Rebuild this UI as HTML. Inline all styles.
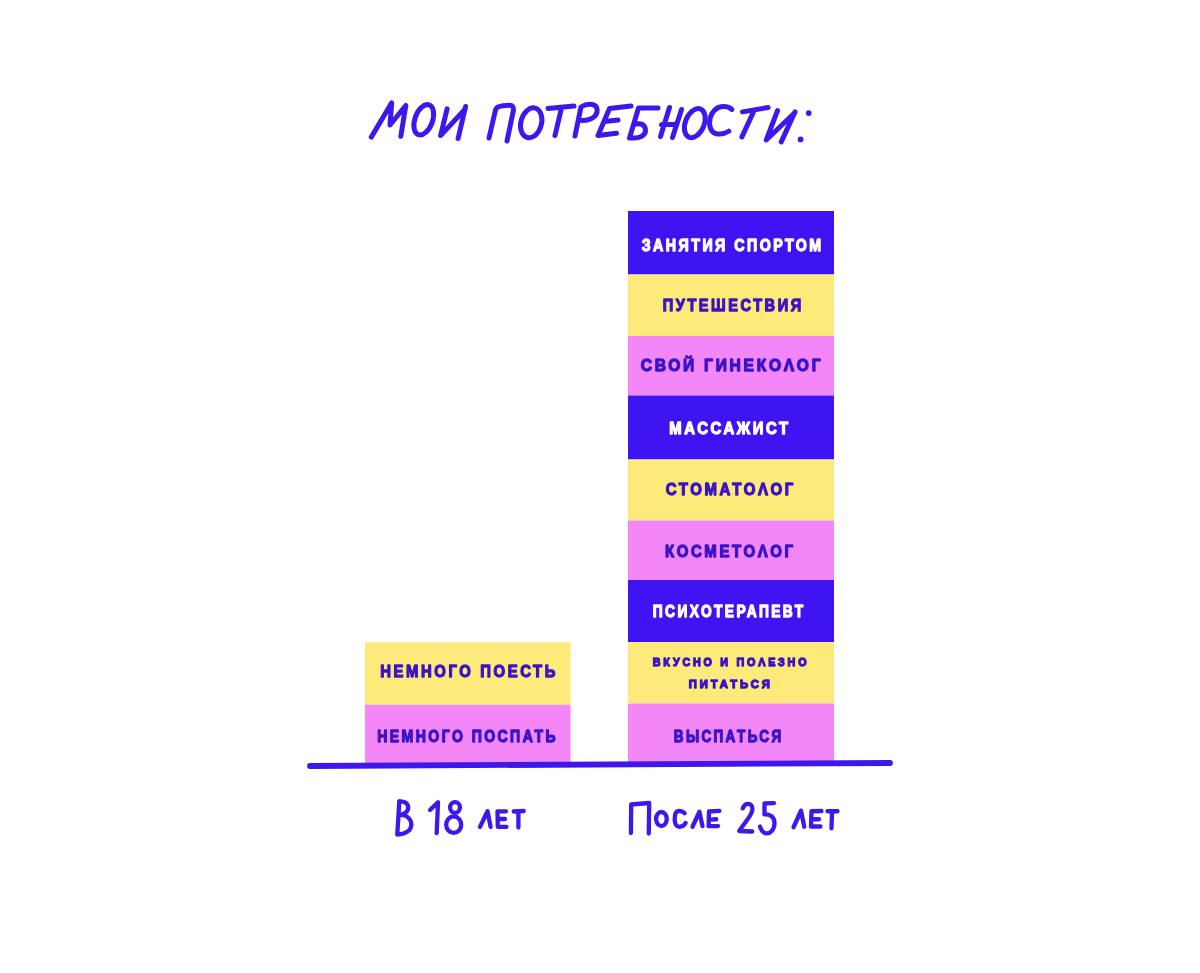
<!DOCTYPE html><html><head><meta charset="utf-8"><style>html,body{margin:0;padding:0;background:#fff;}svg{display:block;will-change:transform}</style></head><body>
<svg width="1200" height="973" viewBox="0 0 1200 973">
<rect width="1200" height="973" fill="#fff"/>
<rect x="628" y="211" width="206" height="63.5" fill="#3e14f2"/>
<rect x="628" y="274.5" width="206" height="61.5" fill="#fdea7a"/>
<rect x="628" y="336" width="206" height="59.5" fill="#f387f8"/>
<rect x="628" y="395.5" width="206" height="64.0" fill="#3e14f2"/>
<rect x="628" y="459.5" width="206" height="61.0" fill="#fdea7a"/>
<rect x="628" y="520.5" width="206" height="59.5" fill="#f387f8"/>
<rect x="628" y="580" width="206" height="62" fill="#3e14f2"/>
<rect x="628" y="642" width="206" height="61.5" fill="#fdea7a"/>
<rect x="628" y="703.5" width="206" height="60.5" fill="#f387f8"/>
<rect x="365" y="642.3" width="205.5" height="62.5" fill="#fdea7a"/>
<rect x="365" y="704.8" width="205.5" height="60.200000000000045" fill="#f387f8"/>
<line x1="310" y1="766" x2="890" y2="763" stroke="#3d17ec" stroke-width="5.8" stroke-linecap="round"/>
<text transform="translate(641.73,251.10) scale(0.8228,1)" font-family="&quot;Liberation Sans&quot;, sans-serif" font-weight="bold" font-size="17.30" fill="#fff" letter-spacing="3.0" stroke="#fff" stroke-width="1.3" stroke-linejoin="round">ЗАНЯТИЯ СПОРТОМ</text>
<text transform="translate(662.85,311.10) scale(0.8426,1)" font-family="&quot;Liberation Sans&quot;, sans-serif" font-weight="bold" font-size="17.30" fill="#3a13c8" letter-spacing="3.0" stroke="#3a13c8" stroke-width="1.3" stroke-linejoin="round">ПУТЕШЕСТВИЯ</text>
<text transform="translate(640.70,371.10) scale(0.9025,1)" font-family="&quot;Liberation Sans&quot;, sans-serif" font-weight="bold" font-size="17.30" fill="#3a13c8" letter-spacing="3.0" stroke="#3a13c8" stroke-width="1.3" stroke-linejoin="round">СВОЙ ГИНЕКОΛОГ</text>
<text transform="translate(669.25,434.10) scale(0.8596,1)" font-family="&quot;Liberation Sans&quot;, sans-serif" font-weight="bold" font-size="17.30" fill="#fff" letter-spacing="3.0" stroke="#fff" stroke-width="1.3" stroke-linejoin="round">МАССАЖИСТ</text>
<text transform="translate(665.70,495.25) scale(0.8681,1)" font-family="&quot;Liberation Sans&quot;, sans-serif" font-weight="bold" font-size="17.30" fill="#3a13c8" letter-spacing="3.0" stroke="#3a13c8" stroke-width="1.3" stroke-linejoin="round">СТОМАТОΛОГ</text>
<text transform="translate(665.08,557.00) scale(0.8674,1)" font-family="&quot;Liberation Sans&quot;, sans-serif" font-weight="bold" font-size="17.30" fill="#3a13c8" letter-spacing="3.0" stroke="#3a13c8" stroke-width="1.3" stroke-linejoin="round">КОСМЕТОΛОГ</text>
<text transform="translate(652.82,617.00) scale(0.7970,1)" font-family="&quot;Liberation Sans&quot;, sans-serif" font-weight="bold" font-size="17.30" fill="#fff" letter-spacing="3.0" stroke="#fff" stroke-width="1.3" stroke-linejoin="round">ПСИХОТЕРАПЕВТ</text>
<text transform="translate(652.80,666.40) scale(0.9263,1)" font-family="&quot;Liberation Sans&quot;, sans-serif" font-weight="bold" font-size="11.60" fill="#3a13c8" letter-spacing="3.0" stroke="#3a13c8" stroke-width="1.3" stroke-linejoin="round">ВКУСНО И ПОΛЕЗНО</text>
<text transform="translate(688.69,688.10) scale(0.9709,1)" font-family="&quot;Liberation Sans&quot;, sans-serif" font-weight="bold" font-size="11.60" fill="#3a13c8" letter-spacing="3.0" stroke="#3a13c8" stroke-width="1.3" stroke-linejoin="round">ПИТАТЬСЯ</text>
<text transform="translate(673.78,741.65) scale(0.7813,1)" font-family="&quot;Liberation Sans&quot;, sans-serif" font-weight="bold" font-size="17.30" fill="#3a13c8" letter-spacing="3.0" stroke="#3a13c8" stroke-width="1.3" stroke-linejoin="round">ВЫСПАТЬСЯ</text>
<text transform="translate(380.20,677.00) scale(0.8612,1)" font-family="&quot;Liberation Sans&quot;, sans-serif" font-weight="bold" font-size="17.30" fill="#3a13c8" letter-spacing="3.0" stroke="#3a13c8" stroke-width="1.3" stroke-linejoin="round">НЕМНОГО ПОЕСТЬ</text>
<text transform="translate(377.20,741.65) scale(0.8130,1)" font-family="&quot;Liberation Sans&quot;, sans-serif" font-weight="bold" font-size="17.30" fill="#3a13c8" letter-spacing="3.0" stroke="#3a13c8" stroke-width="1.3" stroke-linejoin="round">НЕМНОГО ПОСПАТЬ</text>
<g fill="none" stroke="#3d17ec" stroke-width="5.0" stroke-linecap="round" stroke-linejoin="round">
<path d="M371.3,137.1 L391.7,102.8 L390,125 L405.8,105.5 L400.8,136.3"/>
<path d="M465.6,106.5 L458.1,138.5"/>
<path d="M447.1,108.9 L440.6,135.6 L464.8,109.5"/>
<path d="M489,138 L495.5,110 C496.5,107 499,106.2 503,105.8 L509.5,105.3 C512.5,105.2 513.5,107 513.5,110 L507,141"/>
<path d="M548,108.5 L574,106 M561.5,108 L555,135.5"/>
<path d="M575,136 L581,107 C585,104.5 590,103.8 594,105 C598,106.5 598,113 595,116 C592,119 586,120.5 582,120.5"/>
<path d="M631,106 L609.5,108.5 L598,135.5 L616.5,133.3 M604.5,121.5 L618,120"/>
<path d="M658,108 L638.5,108 L629.5,138 C636,138.5 641,137.5 644,134.5 C646.5,131.5 646,125.5 641,124 C638.5,123.3 636,123.8 634,124.5"/>
<path d="M669.5,107.5 L660.5,136.5 M681.5,109.5 L672.5,137.5 M661.5,124.8 L676.5,124.3"/>
<path d="M731.9,109.4 C729.5,107 725,106.5 722.5,106.6 C716,107 711.25,112.5 710,118.5 C708.5,126 711,133 716.25,133.75 C721,134.5 726,133 728.75,131.25"/>
<path d="M742.5,111.9 L768.1,107.5 M754.4,110 L741.9,136.9"/>
<path d="M777.5,110.6 L766.25,140 L795,112.5 M795,111.9 L781.25,141.9"/>
<ellipse cx="423.75" cy="119.8" rx="8.8" ry="15.8" transform="rotate(20 423.75 119.8)"/>
<ellipse cx="531.2" cy="122.8" rx="10.3" ry="15.2" transform="rotate(15 531.2 122.8)"/>
<ellipse cx="694.8" cy="123.1" rx="9.4" ry="15.2" transform="rotate(22 694.8 123.1)"/>
</g>
<circle cx="808.75" cy="113.1" r="2.9" fill="#3d17ec"/>
<circle cx="800.6" cy="139.4" r="2.9" fill="#3d17ec"/>
<g fill="none" stroke="#3d17ec" stroke-width="4.3" stroke-linecap="round" stroke-linejoin="round">
<path d="M399.3,801.5 L397.3,834.3"/>
<path d="M399.3,801.5 C404,801 408,803 408.2,807.5 C408.3,811.5 404,814 400.5,814.8 C407,815 411.3,819 411.3,825 C411.3,830.5 405,834.5 397.5,834.5"/>
<path d="M430,810 L438,802.3 L436.7,833"/>
<path d="M480,826.9 L487.5,811.25 L490.6,826.9"/>
<path d="M506,811.3 L497.5,811.3 L497.8,826.8 L506.5,826.8 M497.8,819 L505,819"/>
<path d="M513.75,811.5 L523.75,811 M518.4,812 L518.4,827.5"/>
<path d="M630.9,833 L631.2,804.5 L649.2,803 L648.75,833.5"/>
<path d="M684.7,813.3 C683,811.5 681,810.8 678.75,810.8 C675.5,811 674.7,815.5 674.7,819.5 C674.7,824 676.5,826.8 679.4,826.8 C682,826.8 684.5,825 685.6,823"/>
<path d="M692.5,826.75 L699.4,811.75 L702.5,826.1"/>
<path d="M719.4,810.8 L709,811.5 L708.6,826.1 L718.1,826.1 M710,819.6 L716.25,819.25"/>
<path d="M742.7,808.4 C744,805 746,803.8 748,803.8 C751,803.8 752.5,806 752.5,809 C752.5,815 745,822 739.25,831 L752.2,831.5"/>
<path d="M773.9,803.1 L764.5,803.3 L764.5,814.4 C769,814 774.5,816 774.5,823 C774.5,830 770,833.4 767,833.4 C763,833.4 761,830 760,826.5"/>
<path d="M793.5,827.25 L801,810.75 L804.25,826.75"/>
<path d="M821.5,811 L811.5,811.25 L811,826.5 L820.5,826.5 M812.5,819.25 L819,819.25"/>
<path d="M827.5,811.25 L837.5,811.25 M832,812 L831.5,828.25"/>
<ellipse cx="455" cy="807.5" rx="4.9" ry="5.4"/>
<ellipse cx="453.7" cy="824.7" rx="7.5" ry="8.25"/>
<ellipse cx="661.4" cy="819" rx="5.35" ry="7"/>
</g>
</svg></body></html>
